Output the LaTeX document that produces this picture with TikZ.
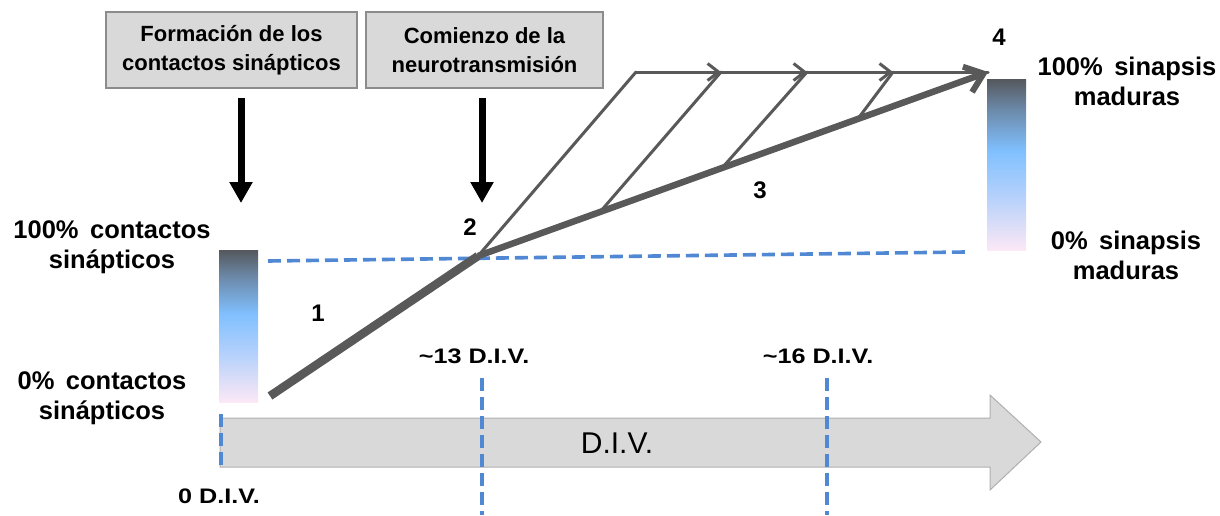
\documentclass[tikz,border=0pt]{standalone}
\usepackage{fontspec}
\setmainfont{Liberation Sans}
\usetikzlibrary{arrows.meta}
\definecolor{boxgray}{HTML}{D9D9D9}
\definecolor{boxedge}{HTML}{8C8C8C}
\definecolor{linegray}{HTML}{595959}
\definecolor{dashblue}{RGB}{80,136,212}
\definecolor{bartop}{HTML}{55585D}
\definecolor{barmid}{HTML}{6C8AAA}
\definecolor{barblue}{HTML}{80C0FF}
\definecolor{barbot}{HTML}{FCE8F6}
\pgfdeclareverticalshading{barshade}{100bp}{color(0bp)=(barbot); color(25bp)=(barbot); color(40bp)=(barblue!55!barbot); color(54bp)=(barblue); color(66bp)=(barmid); color(75bp)=(bartop); color(100bp)=(bartop)}
\begin{document}
\begin{tikzpicture}[x=1pt,y=-1pt,
  lbl/.style={font=\bfseries\fontsize{25.5}{30}\selectfont, align=center, inner sep=0pt},
  divlbl/.style={font=\bfseries\fontsize{21}{25}\selectfont, inner sep=0pt, xscale=1.2},
  num/.style={font=\bfseries\fontsize{24}{28}\selectfont, inner sep=0pt},
  topbox/.style={draw=boxedge, line width=1.2pt, fill=boxgray, align=center, inner sep=0pt,
     minimum height=76pt, font=\bfseries\fontsize{22}{28.5}\selectfont},
  downarrow/.style={line width=7pt, -{Triangle[length=21pt,width=22pt]}},
  thinline/.style={draw=linegray, line width=3pt, line cap=round, line join=round},
  chev/.style={thinline, -{Straight Barb[length=11pt,width=17pt,line width=3pt]}},
  thickline/.style={draw=linegray, line width=6.5pt},
  blued/.style={draw=dashblue, line width=3.6pt, dash pattern=on 13pt off 6pt}
]
\useasboundingbox (0,0) rectangle (1220,515);

% top boxes
\node[topbox, minimum width=251pt] (b1) at (231.5,50) {Formación de los\\contactos sinápticos};
\node[topbox, minimum width=237pt] (b2) at (484.5,50) {Comienzo de la\\neurotransmisión};

% down arrows
\coordinate (a1s) at (241,98); \coordinate (a1e) at (241,203);
\coordinate (a2s) at (482,98); \coordinate (a2e) at (482,203);
\draw[downarrow] (a1s) -- (a1e);
\draw[downarrow] (a2s) -- (a2e);

% big time arrow
\path[fill=boxgray, draw=boxedge!70, line width=1pt]
  (220,418) -- (990,418) -- (990,395) -- (1041,442) -- (990,490) -- (990,467) -- (220,467) -- cycle;
\node[font=\fontsize{30}{34}\selectfont, inner sep=0pt] (div) at (617,443) {D.I.V.};

% gradient bars
\shade[shading=barshade] (219,250) rectangle (258,402);
\shade[shading=barshade] (987,79) rectangle (1026,250);

% blue dashed lines
\coordinate (h1) at (268,261); \coordinate (h2) at (965,252);
\draw[blued] (h1) -- (h2);
\coordinate (v0a) at (221,414); \coordinate (v0b) at (221,467);
\coordinate (v1a) at (482,378); \coordinate (v1b) at (482,515);
\coordinate (v2a) at (827,378); \coordinate (v2b) at (827,515);
\draw[blued] (v0a) -- (v0b);
\draw[blued] (v1a) -- (v1b);
\draw[blued] (v2a) -- (v2b);

% growth lines
\coordinate (p0) at (270,396);
\coordinate (p2) at (478,256);
\coordinate (tip) at (988,72);
\coordinate (c0) at (636,72);
\coordinate (c1) at (721,72);
\coordinate (c2) at (807,72);
\coordinate (c3) at (893,72);
\coordinate (d1) at (600,212);
\coordinate (d2) at (722,168);
\coordinate (d3) at (857,120);
\draw[draw=linegray, line width=8.5pt] (p0) -- (p2);
\draw[thinline] (p2) -- (c0);
\draw[chev] (c0) -- (c1);
\draw[chev] (c1) -- (c2);
\draw[chev] (c2) -- (c3);
\draw[thinline] (c3) -- (tip);
\draw[thinline] (d1) -- (c1);
\draw[thinline] (d2) -- (c2);
\draw[thinline] (d3) -- (c3);
\draw[thickline, -{Straight Barb[length=17pt,width=27pt,line width=6pt]}] (p2) -- (tip);

% labels
\node[lbl] (l100c) at (112,247) {100\%\hspace{0.45em}contactos\\sinápticos};
\node[lbl] (l0c) at (102,398) {0\%\hspace{0.45em}contactos\\sinápticos};
\node[lbl] (l100s) at (1127,81) {100\%\hspace{0.45em}sinapsis\\maduras};
\node[lbl] (l0s) at (1126,255) {0\%\hspace{0.45em}sinapsis\\maduras};
\node[num] (n1) at (318,313) {1};
\node[num] (n2) at (470,227) {2};
\node[num] (n3) at (760,190) {3};
\node[num] (n4) at (999,37) {4};
\node[divlbl] (t13) at (474,356) {\textasciitilde13 D.I.V.};
\node[divlbl] (t16) at (818,356) {\textasciitilde16 D.I.V.};
\node[divlbl] (t0) at (219,496) {0 D.I.V.};
\end{tikzpicture}
\end{document}
